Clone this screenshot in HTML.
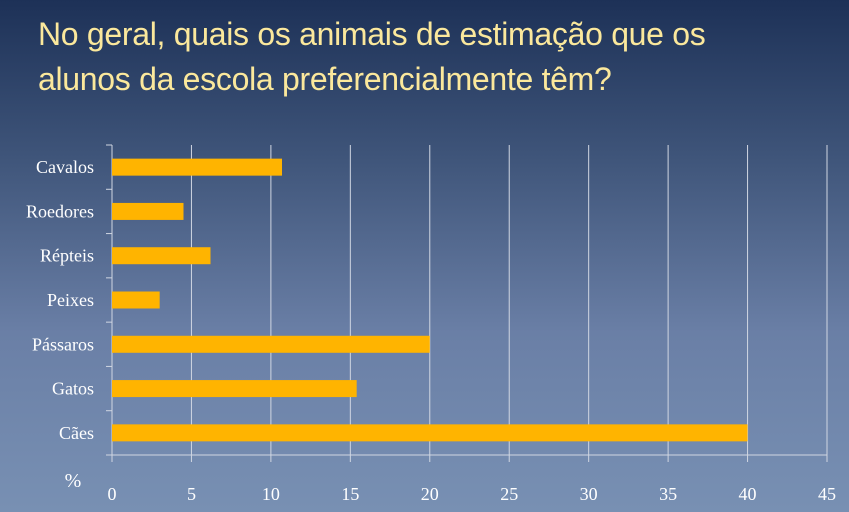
<!DOCTYPE html>
<html><head><meta charset="utf-8"><style>
body{margin:0;width:849px;height:512px;overflow:hidden;background:linear-gradient(180deg,#1d3157 0%,#3e5479 30%,#6a7fa6 65%,#7890b3 100%);font-family:"Liberation Serif",serif;}
h1{position:absolute;left:38px;top:12px;margin:0;font:normal 32px/45px "Liberation Sans",sans-serif;color:#fbe89c;letter-spacing:-0.3px;}
</style></head><body>
<h1>No geral, quais os animais de estimação que os<br>alunos da escola preferencialmente têm?</h1>
<svg id="c" width="849" height="512" style="position:absolute;left:0;top:0"></svg>
<script>
const categories=["Cavalos","Roedores","Répteis","Peixes","Pássaros","Gatos","Cães"];
const values=[10.7,4.5,6.2,3.0,20,15.4,40];
const ticks=[0,5,10,15,20,25,30,35,40,45];
const NS="http://www.w3.org/2000/svg",svg=document.getElementById("c");
const x0=112,x1=827,yTop=145,yBot=455,xmax=45;
const X=v=>x0+(v/xmax)*(x1-x0);
const band=(yBot-yTop)/categories.length;
const Y=i=>yTop+band*(i+0.5);
function mk(t,a){const e=document.createElementNS(NS,t);for(const k in a)e.setAttribute(k,a[k]);svg.appendChild(e);return e;}
ticks.forEach(t=>{
 const l=mk("line",{x1:X(t),x2:X(t),y1:yTop,y2:yBot+7,stroke:"#d0d6e2","stroke-width":1});
 
 
 const tx=mk("text",{x:X(t),y:500,"text-anchor":"middle","font-size":"18",fill:"#fff"});
 tx.textContent=t;
 
 
});
const ax=mk("line",{x1:x0,x2:x1,y1:yBot,y2:yBot,stroke:"#d0d6e2"});


for(let i=0;i<=categories.length;i++){const tk=mk("line",{x1:x0-6,x2:x0,y1:yTop+band*i,y2:yTop+band*i,stroke:"#d0d6e2"});
 
 }
categories.forEach((c,i)=>{
 const r=mk("rect",{x:x0,y:Y(i)-8.5,width:X(values[i])-x0,height:17,fill:"#ffb400"});
 
 
 const t=mk("text",{x:94,y:Y(i)+6,"text-anchor":"end","font-size":"18",fill:"#fff"});
 t.textContent=c;
 
 
});
const p=mk("text",{x:73,y:487,"text-anchor":"middle","font-size":"20",fill:"#fff"});
p.textContent="%";


</script>
</body></html>
